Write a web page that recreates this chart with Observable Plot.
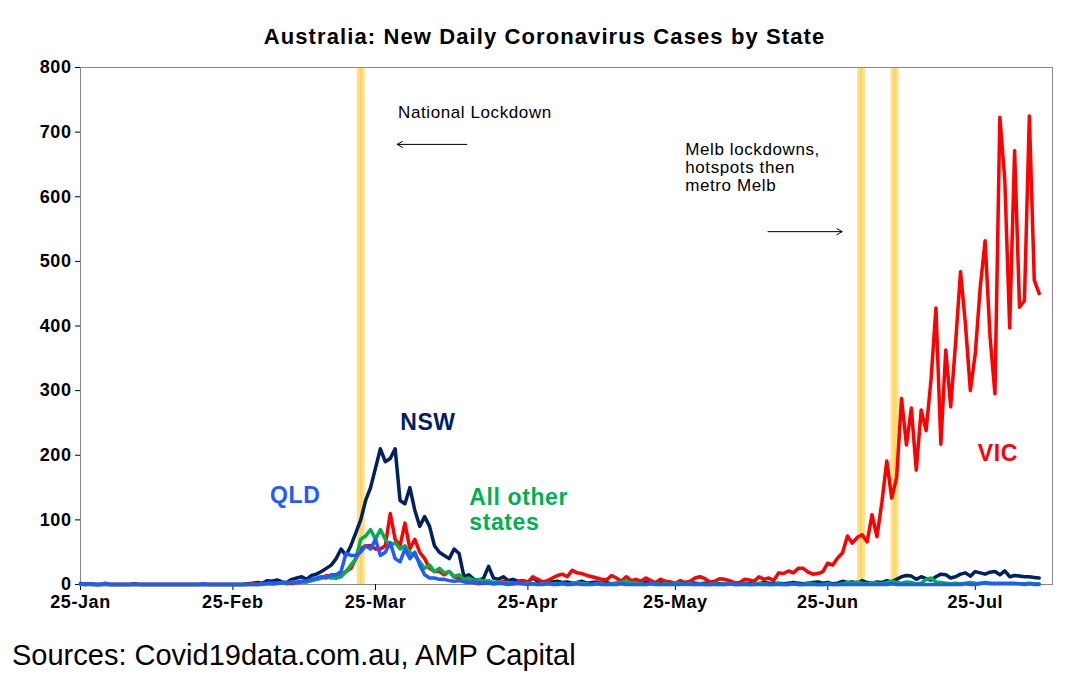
<!DOCTYPE html>
<html><head><meta charset="utf-8">
<script src="https://cdn.jsdelivr.net/npm/d3@7"></script>
<script src="https://cdn.jsdelivr.net/npm/@observablehq/plot@0.6"></script>
<style>
body{margin:0;background:#fff;font-family:"Liberation Sans",Arial,sans-serif;}
#title{height:50px;line-height:74px;text-align:center;font-weight:bold;font-size:22px;letter-spacing:1.1px;color:#000;padding-left:10px}
#cap{font-size:29px;margin:14px 0 0 12px;color:#000}
svg text{letter-spacing:0.6px}
</style></head><body>
<div id="title">Australia: New Daily Coronavirus Cases by State</div>
<div id="chart"></div>
<div id="cap">Sources: Covid19data.com.au, AMP Capital</div>
<script>
const startDate = "2020-01-25";
const nsw = [
1,0,1,0,0,1,0,
0,0,0,0,1,0,0,0,0,0,0,0,0,0,0,0,0,0,0,0,0,0,0,0,0,0,0,1,2,
3,2,6,5,7,4,3,8,10,12,8,14,16,20,25,30, 40,55,45,60,80,100,130,150,180,210,190,195,210,130,125,
150,115,90,105,90,60,50,45,40,55,48,12, 15,8,6,10,28,10,8,12,6,8,5,6,4,10,5,3,5,4,
5,3,4,2,3,5,2,3,4,2,3,1,2,3,2,1,2,3,4,2,1,3,2,1,2,1,2,3,2,1,2,
1,2,1,0,2,1,3,2,1,2,1,3,2,1,2,1,2,3,2,1,2,3,4,2,3,1,2,5,3,4,
2,6,3,2,4,3,6,4,8,12,14,13,8,12,9,7,12,16,15,10,12,16,18,13,20,18,16,19,20,15,21,
12,14,13,12,12,11,10];
const vic = [
0,1,0,0,0,0,0,
0,0,0,0,0,0,0,0,0,0,0,0,0,0,0,0,0,0,0,0,0,0,0,0,0,0,0,0,1,
0,1,2,1,2,3,1,2,3,4,4,6,8,10,14,12, 10,15,20,25,40,55,60,60,55,55,60,110,70,60,95,
55,70,50,40,25,20,20,15,20,12,10,5, 4,3,1,2,3,1,2,5,3,2,4,6,3,12,8,4,6,10,
14,16,12,22,18,17,14,12,10,8,7,14,10,5,12,6,8,5,10,6,3,8,5,4,2,6,3,5,10,12,9,
4,5,9,8,6,3,2,8,7,5,12,8,10,6,18,17,21,18,25,25,19,16,17,20,33,30,41,49,75,64,
73,77,66,108,74,127,191,134,165,288,216,273,177,270,238,317,428,217,363,275,374,484,403,300,357,459,532,384,295,723,627,
397,671,429,439,725,471,450];
const qld = [
2,0,1,0,0,2,0,
0,0,0,0,0,0,0,0,0,0,0,0,0,0,0,0,0,0,1,0,0,0,0,0,0,0,0,0,0,
0,1,2,1,2,3,2,4,3,5,6,8,10,12,10,15, 15,20,48,45,45,50,60,55,70,45,50,65,40,35,55,
40,50,30,15,10,10,8,8,6,5,6,4, 3,4,2,3,2,1,2,1,0,1,2,1,0,1,0,0,1,0,
0,1,0,0,1,0,0,0,1,0,0,0,0,1,0,0,0,0,0,1,0,0,0,0,0,0,1,0,0,0,0,
0,0,0,0,1,0,0,0,0,0,0,0,0,0,0,0,0,1,0,0,0,0,0,0,0,0,0,0,0,0,
0,0,0,0,0,0,0,1,0,0,0,0,0,0,0,0,0,0,0,0,0,0,1,0,0,2,3,2,1,2,1,
2,1,1,0,1,0,0];
const other = [
0,0,0,0,0,0,0,
0,0,0,0,0,0,0,0,0,0,0,0,0,0,0,0,0,0,0,0,0,0,0,0,0,0,0,0,0,
0,0,1,2,1,3,2,4,3,5,4,6,8,10,12,10, 10,12,20,30,40,70,75,85,70,85,70,60,65,55,60,
50,45,35,25,30,20,25,18,20,12,15,8, 10,6,8,5,6,3,4,2,3,1,2,1,2,1,0,1,2,1,
1,2,0,1,3,2,1,0,2,1,0,1,2,4,5,3,2,1,0,2,1,0,1,0,2,1,0,1,0,1,0,
0,1,0,2,1,0,0,1,0,0,2,1,0,0,1,0,0,1,0,0,2,1,0,0,1,0,0,1,3,2,
4,2,1,3,2,1,3,5,3,2,4,3,1,2,8,10,4,3,2,1,2,1,2,3,2,1,2,1,2,1,2,
1,2,1,1,2,1,1];
const seriesNames = ["NSW","VIC","All other states","QLD"];
const seriesColors = ["#002060","#FF0000","#00B050","#1F5CFF"];
const lockdownDates = ["2020-03-22T00:00Z","2020-07-01T18:00Z","2020-07-08T14:00Z"];
const xTicks = ["2020-01-25","2020-02-25","2020-03-25","2020-04-25","2020-05-25","2020-06-25","2020-07-25"];
const yTicks = [0,100,200,300,400,500,600,700,800];
const seriesLabels = [
 {t:"NSW",d:"2020-04-04T16:00Z",v:251,c:"#002060",a:"middle"},
 {t:"QLD",d:"2020-03-08T16:00Z",v:138,c:"#1F5CFF",a:"middle"},
 {t:"All other\nstates",d:"2020-04-13T02:00Z",v:116,c:"#00B050",a:"start"},
 {t:"VIC",d:"2020-07-29T14:00Z",v:204,c:"#FF0000",a:"middle"}];
const notes = [
 {t:"National Lockdown",d:"2020-03-29T14:00Z",v:730},
 {t:"Melb lockdowns,\nhotspots then\nmetro Melb",d:"2020-05-27T00:00Z",v:646}];
const arrowsData = [
 {d1:"2020-04-12T14:00Z",d2:"2020-03-29T10:00Z",v:681},
 {d1:"2020-06-12T20:00Z",d2:"2020-06-27T22:00Z",v:546}];

const t0 = Date.parse(startDate+"T00:00Z");
const rows = [];
[nsw,vic,other,qld].forEach((arr,k)=>arr.forEach((v,i)=>rows.push({s:seriesNames[k],date:new Date(t0+i*864e5),v})));
const D = s=>new Date(s.length===10? s+"T00:00Z" : s);
const lab = a=>seriesLabels.filter(d=>d.a===a);

const chart = Plot.plot({
  width:1079, height:575,
  marginLeft:80, marginRight:27, marginTop:17, marginBottom:41,
  style:{fontFamily:"Liberation Sans, Arial, sans-serif",fontSize:"16px",color:"#000",background:"#fff"},
  x:{type:"utc",domain:[D("2020-01-25"),D("2020-08-09T17:00Z")],label:null},
  y:{domain:[0,800],label:null},
  color:{domain:seriesNames,range:seriesColors},
  marks:[
    Plot.ruleX(lockdownDates.map(D),{stroke:"#FFE08A",strokeWidth:8}),
    Plot.ruleX(lockdownDates.map(D),{stroke:"#FFC000",strokeWidth:2,strokeOpacity:0.4}),
    Plot.frame({stroke:"#888"}),
    Plot.axisX({ticks:xTicks.map(D),tickFormat:d3.utcFormat("%d-%b"),fontWeight:"bold",fontSize:18,tickSize:6,tickPadding:5,label:null}),
    Plot.axisY({ticks:yTicks,fontWeight:"bold",fontSize:18,tickSize:5,tickPadding:4,label:null}),
    Plot.lineY(rows,{x:"date",y:"v",z:"s",stroke:"s",strokeWidth:3.5,curve:"linear"}),
    Plot.text(lab("middle"),{x:d=>D(d.d),y:"v",text:"t",fill:d=>d.c,fontWeight:"bold",fontSize:23,lineHeight:1.1}),
    Plot.text(lab("start"),{x:d=>D(d.d),y:"v",text:"t",textAnchor:"start",fill:d=>d.c,fontWeight:"bold",fontSize:23,lineHeight:1.1}),
    Plot.text(notes,{x:d=>D(d.d),y:"v",text:"t",textAnchor:"start",fontSize:17,fill:"#000",lineHeight:1.05}),
    Plot.arrow(arrowsData,{x1:d=>D(d.d1),x2:d=>D(d.d2),y1:"v",y2:"v",stroke:"#000",strokeWidth:1,headLength:9})
  ]
});
document.getElementById("chart").appendChild(chart);
</script></body></html>
